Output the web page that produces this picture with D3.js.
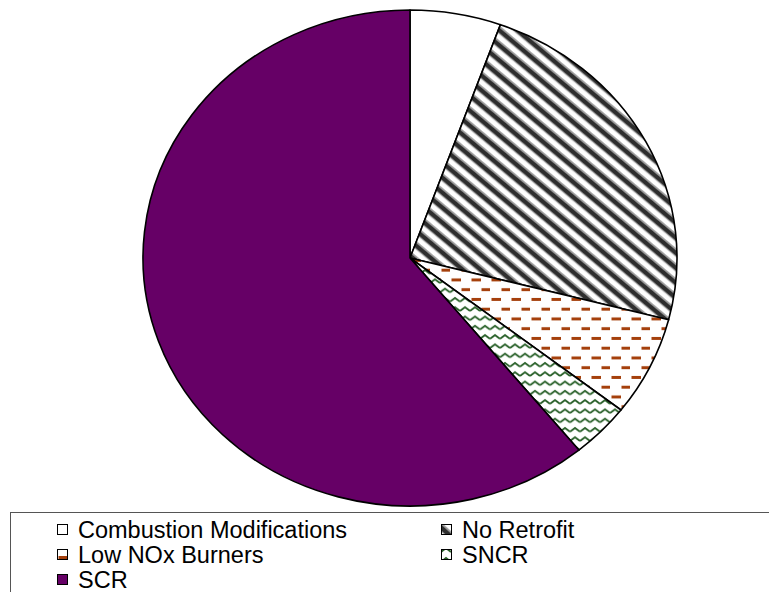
<!DOCTYPE html>
<html>
<head>
<meta charset="utf-8">
<script src="https://cdn.jsdelivr.net/npm/d3@7"></script>
<style>
  html, body { margin: 0; padding: 0; background: #fff; }
  svg { display: block; font-family: "Liberation Sans", Arial, sans-serif; }
</style>
</head>
<body>
<div id="chart"></div>
<script>
    "use strict";

    // data (percent of total)
    var categories = ["Combustion Modifications", "No Retrofit", "Low NOx Burners", "SNCR", "SCR"];
    var shares = [5.5, 23.5, 6.5, 3.6, 60.9];
    var fills = ["plain", "stripes", "dashes", "waves", "solid"];

    var width = 769, height = 592;
    var cx = 410, cy = 258, rx = 267, ry = 248;

    var svg = d3.select("#chart")
        .append("svg")
        .attr("width", width)
        .attr("height", height);

    var defs = svg.append("defs");

    // diagonal stripes, "\" direction
    var pStripe = defs.append("pattern")
        .attr("id", "stripes")
        .attr("patternUnits", "userSpaceOnUse")
        .attr("width", 12).attr("height", 12)
        .attr("patternTransform", "rotate(-48)");
    pStripe.append("rect").attr("width", 12).attr("height", 12).attr("fill", "#fff");
    pStripe.append("rect").attr("x", 0).attr("width", 4.5).attr("height", 12).attr("fill", "#2e2e2e");
    pStripe.append("rect").attr("x", 4.5).attr("width", 1.2).attr("height", 12).attr("fill", "#888");
    pStripe.append("rect").attr("x", 10.8).attr("width", 1.2).attr("height", 12).attr("fill", "#888");

    // staggered dashes
    var pDash = defs.append("pattern")
        .attr("id", "dashes")
        .attr("patternUnits", "userSpaceOnUse")
        .attr("width", 20).attr("height", 21);
    pDash.append("rect").attr("width", 20).attr("height", 21).attr("fill", "#fff");
    pDash.append("rect").attr("x", 1.5).attr("y", 1).attr("width", 9.5).attr("height", 3.2).attr("fill", "#a5400c");
    pDash.append("rect").attr("x", 11.5).attr("y", 11.5).attr("width", 9.5).attr("height", 3.2).attr("fill", "#a5400c");

    // zigzag waves
    var pWave = defs.append("pattern")
        .attr("id", "waves")
        .attr("patternUnits", "userSpaceOnUse")
        .attr("width", 10).attr("height", 10);
    pWave.append("rect").attr("width", 10).attr("height", 10).attr("fill", "#fff");
    pWave.append("path")
        .attr("d", "M0,7 L5,3 L10,7")
        .attr("fill", "none")
        .attr("stroke", "#2c632c")
        .attr("stroke-width", 2);

    function fillFor(f) {
        if (f === "solid") return "#660066";
        if (f === "plain") return "#fff";
        return "url(#" + f + ")";
    }

    var pie = d3.pie().sort(null).value(function (d) { return d; });
    var arc = d3.arc().innerRadius(0).outerRadius(rx);

    var g = svg.append("g")
        .attr("transform", "translate(" + cx + "," + cy + ") scale(1," + (ry / rx) + ")");

    g.selectAll("path")
        .data(pie(shares))
        .enter()
        .append("path")
        .attr("d", arc)
        .attr("fill", function (d, i) { return fillFor(fills[i]); })
        .attr("stroke", "#000")
        .attr("stroke-width", 1.6)
        .attr("vector-effect", "non-scaling-stroke")
        .attr("stroke-linejoin", "round");

    // legend
    var lg = svg.append("g");
    lg.append("rect")
        .attr("x", 10.5).attr("y", 512.5)
        .attr("width", 780).attr("height", 100)
        .attr("fill", "#fff")
        .attr("stroke", "#555")
        .attr("stroke-width", 1);

    var colX = [57, 441], rowY = [530, 555, 580];
    var items = lg.selectAll("g.item")
        .data(categories)
        .enter()
        .append("g")
        .attr("class", "item")
        .attr("transform", function (d, i) {
            return "translate(" + colX[i % 2] + "," + rowY[Math.floor(i / 2)] + ")";
        });

    items.append("rect")
        .attr("x", 0.5).attr("y", -5.5)
        .attr("width", 10).attr("height", 10)
        .attr("fill", function (d, i) { return fillFor(fills[i]); })
        .attr("stroke", "#000")
        .attr("stroke-width", 1);

    items.append("text")
        .attr("x", 21)
        .attr("y", 8)
        .attr("font-size", 23.5)
        .attr("fill", "#000")
        .text(function (d) { return d; });
</script>
</body>
</html>
